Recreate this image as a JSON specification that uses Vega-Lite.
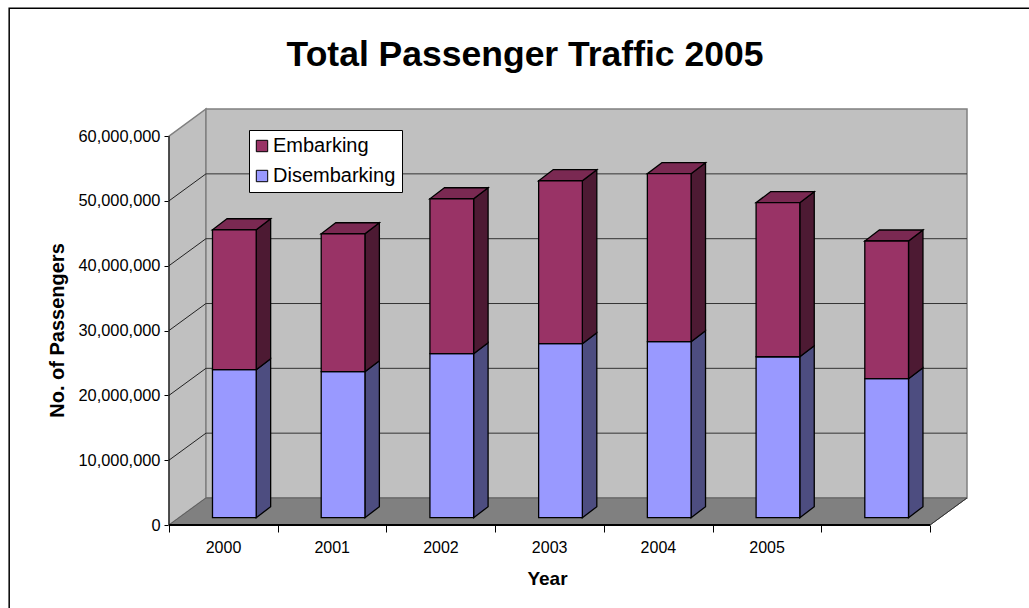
{
"$schema":"https://vega.github.io/schema/vega-lite/v6.json",
"width":798,"height":416,
"autosize":{"type":"none"},
"padding":{"left":169,"top":109,"right":62,"bottom":83},
"background":"#ffffff",
"view":{"stroke":null},
"title":{"text":"Total Passenger Traffic 2005","font":"Liberation Sans","fontWeight":"bold","fontSize":35.5,"color":"#000000","anchor":"middle","frame":"group","dx":-43,"offset":-66},
"config":{"font":"Liberation Sans"},
"datasets":{
"bars":[
{"year":2000,"series":"Disembarking","start":0,"end":22830000},
{"year":2000,"series":"Embarking","start":22830000,"end":44420000},
{"year":2001,"series":"Disembarking","start":0,"end":22520000},
{"year":2001,"series":"Embarking","start":22520000,"end":43800000},
{"year":2002,"series":"Disembarking","start":0,"end":25300000},
{"year":2002,"series":"Embarking","start":25300000,"end":49200000},
{"year":2003,"series":"Disembarking","start":0,"end":26840000},
{"year":2003,"series":"Embarking","start":26840000,"end":51980000},
{"year":2004,"series":"Disembarking","start":0,"end":27150000},
{"year":2004,"series":"Embarking","start":27150000,"end":53060000},
{"year":2005,"series":"Disembarking","start":0,"end":24830000},
{"year":2005,"series":"Embarking","start":24830000,"end":48590000},
{"year":2006,"series":"Disembarking","start":0,"end":21440000},
{"year":2006,"series":"Embarking","start":21440000,"end":42680000}
],
"grid":[{"v":0},{"v":10000000},{"v":20000000},{"v":30000000},{"v":40000000},{"v":50000000},{"v":60000000}]
},
"layer":[
{"data":{"values":[{"a":1}]},
 "mark":{"type":"rect","fill":null,"stroke":"#000000","strokeWidth":1.5},
 "encoding":{
  "x":{"datum":-1.47,"type":"quantitative","scale":{"domain":[0,7.34],"nice":false,"zero":false},
   "axis":{"values":[0,1,2,3,4,5,6,7],"labelExpr":"datum.value<6?''+(2000+datum.value):''","labelFlush":false,"labelOffset":54,"labelFontSize":16,"labelColor":"#000000","labelPadding":7,"tickColor":"#000000","tickSize":7,"domain":false,"grid":false,"title":"Year","titleFontSize":19,"titleFontWeight":"bold","titleColor":"#000000","titleX":378,"titleY":44,"titleAnchor":"middle","titleAlign":"center"}},
  "x2":{"datum":9},
  "y":{"datum":79700000,"type":"quantitative","scale":{"domain":[0,64170000],"nice":false,"zero":false},
   "axis":{"values":[0,10000000,20000000,30000000,40000000,50000000,60000000],"labelExpr":"format(datum.value,',')","labelFlush":false,"labelFontSize":16.4,"labelColor":"#000000","labelPadding":4,"tickColor":"#000000","tickSize":5,"domain":false,"grid":false,"title":"No. of Passengers","titleFontSize":20,"titleFontWeight":"bold","titleColor":"#000000","titleX":-102,"titleY":221,"titleAngle":-90,"titleAnchor":"middle","titleAlign":"center"}},
  "y2":{"datum":-20000000}
 }},
{"data":{"values":[{"x":0,"lo":0,"hi":60000000},{"x":0.34,"lo":4165000,"hi":64170000}]},
 "mark":{"type":"area","fill":"#c0c0c0","stroke":"#808080","strokeWidth":1.5},
 "encoding":{"x":{"field":"x","type":"quantitative"},"y":{"field":"lo","type":"quantitative"},"y2":{"field":"hi"}}},
{"data":{"values":[{"x0":0.34,"x1":7.34,"lo":4165000,"hi":64170000}]},
 "mark":{"type":"rect","fill":"#c0c0c0","stroke":"#808080","strokeWidth":1.5},
 "encoding":{"x":{"field":"x0","type":"quantitative"},"x2":{"field":"x1"},"y":{"field":"lo","type":"quantitative"},"y2":{"field":"hi"}}},
{"data":{"values":[{"y":0,"x0":0,"x1":7},{"y":4165000,"x0":0.34,"x1":7.34}]},
 "mark":{"type":"area","orient":"horizontal","fill":"#808080","stroke":"#5f5f5f","strokeWidth":1},
 "encoding":{"y":{"field":"y","type":"quantitative"},"x":{"field":"x0","type":"quantitative"},"x2":{"field":"x1"}}},
{"data":{"name":"grid"},
 "transform":[{"filter":"datum.v>0 && datum.v<60000000"},{"calculate":"datum.v+4165000","as":"b"}],
 "mark":{"type":"rule","color":"#333333","strokeWidth":1},
 "encoding":{"x":{"datum":0.34,"type":"quantitative"},"x2":{"datum":7.34},"y":{"field":"b","type":"quantitative"}}},
{"data":{"name":"grid"},
 "transform":[{"filter":"datum.v>0 && datum.v<60000000"},{"calculate":"datum.v+4165000","as":"b"}],
 "mark":{"type":"rule","color":"#222222","strokeWidth":1},
 "encoding":{"x":{"datum":0,"type":"quantitative"},"x2":{"datum":0.34},"y":{"field":"v","type":"quantitative"},"y2":{"field":"b"}}},
{"data":{"values":[{"a":1}]},
 "mark":{"type":"rule","color":"#000000","strokeWidth":1},
 "encoding":{"x":{"datum":0,"type":"quantitative"},"y":{"datum":0,"type":"quantitative"},"y2":{"datum":60000000}}},
{"data":{"values":[{"a":1}]},
 "mark":{"type":"rule","color":"#000000","strokeWidth":2},
 "encoding":{"x":{"datum":0,"type":"quantitative"},"x2":{"datum":7},"y":{"datum":0,"type":"quantitative"}}},
{"data":{"values":[{"a":1}]},
 "mark":{"type":"rule","color":"#333333","strokeWidth":1},
 "encoding":{"x":{"datum":7,"type":"quantitative"},"x2":{"datum":7.34},"y":{"datum":0,"type":"quantitative"},"y2":{"datum":4165000}}},
{"data":{"name":"bars"},
 "transform":[
  {"calculate":"datum.year-2000+0.802","as":"xr"},
  {"calculate":"datum.start+1126000","as":"lo"},
  {"calculate":"datum.end+1126000","as":"hi"},
  {"calculate":"[0,1]","as":"d"},{"flatten":["d"]},
  {"calculate":"datum.xr+datum.d*0.133","as":"xs"},
  {"calculate":"datum.lo+datum.d*1697000","as":"ylo"},
  {"calculate":"datum.hi+datum.d*1697000","as":"yhi"},
  {"calculate":"datum.year+datum.series","as":"key"}
 ],
 "mark":{"type":"area","stroke":"#000000","strokeWidth":1.3},
 "encoding":{
  "x":{"field":"xs","type":"quantitative"},
  "y":{"field":"ylo","type":"quantitative"},"y2":{"field":"yhi"},
  "detail":{"field":"key"},
  "fill":{"condition":{"test":"datum.series=='Embarking'","value":"#4d1a33"},"value":"#4d4d80"}
 }},
{"data":{"name":"bars"},
 "transform":[
  {"filter":"datum.series=='Embarking'"},
  {"calculate":"[0,1]","as":"d"},{"flatten":["d"]},
  {"calculate":"datum.year-2000+0.40+datum.d*0.133","as":"xa"},
  {"calculate":"datum.xa+0.402","as":"xb"},
  {"calculate":"datum.end+1126000+datum.d*1697000","as":"yt"}
 ],
 "mark":{"type":"area","orient":"horizontal","fill":"#7a2952","stroke":"#000000","strokeWidth":1.3},
 "encoding":{
  "y":{"field":"yt","type":"quantitative"},
  "x":{"field":"xa","type":"quantitative"},"x2":{"field":"xb"},
  "detail":{"field":"year"}
 }},
{"data":{"name":"bars"},
 "transform":[
  {"calculate":"datum.year-2000+0.40","as":"xl"},
  {"calculate":"datum.xl+0.402","as":"xr"},
  {"calculate":"datum.start+1126000","as":"lo"},
  {"calculate":"datum.end+1126000","as":"hi"}
 ],
 "mark":{"type":"rect","stroke":"#000000","strokeWidth":1.3},
 "encoding":{
  "x":{"field":"xl","type":"quantitative"},"x2":{"field":"xr"},
  "y":{"field":"lo","type":"quantitative"},"y2":{"field":"hi"},
  "color":{"field":"series","type":"nominal",
   "scale":{"domain":["Embarking","Disembarking"],"range":["#993366","#9999ff"]},
   "legend":{"title":null,"orient":"none","legendX":80,"legendY":21,"fillColor":"#ffffff","strokeColor":"#000000","padding":6,"symbolType":"square","symbolSize":130,"symbolOffset":-3,"symbolStrokeColor":"#000000","symbolStrokeWidth":1,"labelFontSize":20,"labelColor":"#000000","labelOffset":1,"rowPadding":10,"offset":0}}
 }}
]
}
